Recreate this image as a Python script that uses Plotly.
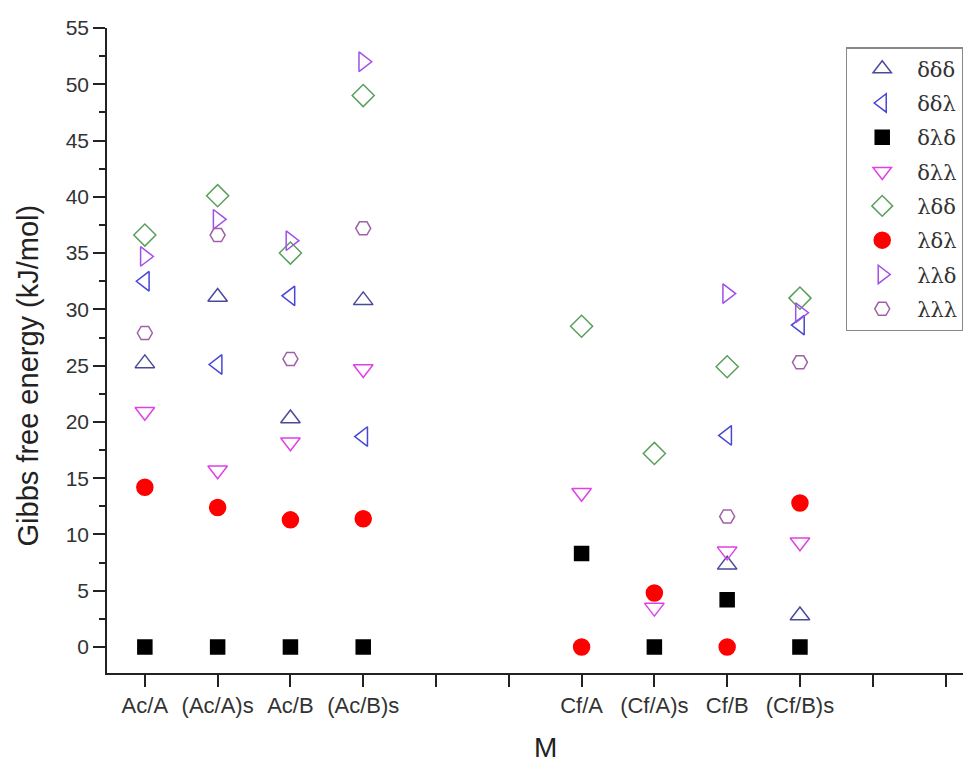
import plotly.graph_objects as go

categories = ["Ac/A", "(Ac/A)s", "Ac/B", "(Ac/B)s", "", "",
              "Cf/A", "(Cf/A)s", "Cf/B", "(Cf/B)s", "", ""]

series_names = ["δδδ", "δδλ", "δλδ", "δλλ", "λδδ", "λδλ", "λλδ", "λλλ"]

# values per category position (None = no point)
ddd = [25.2, 31.1, 20.3, 30.8, None, None, None, None, 7.3, 2.8, None, None]
ddl = [32.5, 25.1, 31.2, 18.7, None, None, None, None, 18.8, 28.6, None, None]
dld = [0.0, 0.0, 0.0, 0.0, None, None, 8.3, 0.0, 4.2, 0.0, None, None]
dll = [20.9, 15.7, 18.2, 24.7, None, None, 13.7, 3.5, 8.5, 9.3, None, None]
ldd = [36.6, 40.1, 35.0, 49.0, None, None, 28.5, 17.2, 24.9, 31.0, None, None]
ldl = [14.2, 12.4, 11.3, 11.4, None, None, 0.0, 4.8, 0.0, 12.8, None, None]
lld = [34.7, 38.0, 36.1, 52.0, None, None, None, None, 31.4, 29.7, None, None]
lll = [27.9, 36.6, 25.6, 37.2, None, None, None, None, 11.6, 25.3, None, None]

y_ticks = [0, 5, 10, 15, 20, 25, 30, 35, 40, 45, 50, 55]

all_values = [ddd, ddl, dld, dll, ldd, ldl, lld, lll]
symbols = ["triangle-up-open", "triangle-left-open", "square", "triangle-down-open",
           "diamond-open", "circle", "triangle-right-open", "hexagon2-open"]
colors = ["#4a4a9c", "#4646d8", "#000000", "#e040e8",
          "#5aa05a", "#ff0000", "#a050e8", "#a060a8"]
sizes = [17, 17, 14, 17, 17, 16, 17, 15]

xpos = list(range(len(categories)))

fig = go.Figure()
for name, vals, sym, col, sz in zip(series_names, all_values, symbols, colors, sizes):
    xs = [x for x, v in zip(xpos, vals) if v is not None]
    ys = [v for v in vals if v is not None]
    fig.add_trace(go.Scatter(
        x=xs, y=ys, mode="markers", name=name, legendgroup=name,
        marker=dict(symbol=sym, color=col, size=sz, line=dict(color=col, width=1.5)),
    ))

fig.update_layout(
    width=963, height=754,
    margin=dict(l=99, r=0, t=20, b=89),
    plot_bgcolor="white", paper_bgcolor="white",
    font=dict(family="Liberation Sans, Arial, sans-serif", color="#333333"),
    legend=dict(
        x=0.855, y=0.9705, xanchor="left", yanchor="top",
        bordercolor="#888888", borderwidth=1.5, bgcolor="white",
        font=dict(family="DejaVu Serif, Liberation Serif, serif", size=21, color="#333333"),
        tracegroupgap=4, itemwidth=60,
    ),
    showlegend=True,
    annotations=[
        dict(text="Gibbs free energy (kJ/mol)", textangle=-90,
             xref="paper", yref="paper", x=-0.0909, y=0.462,
             xanchor="center", yanchor="middle", showarrow=False,
             font=dict(size=29, color="#222222")),
        dict(text="M", xref="paper", yref="paper", x=0.507, y=-0.116,
             xanchor="center", yanchor="middle", showarrow=False,
             font=dict(size=28, color="#222222")),
    ],
)

fig.update_xaxes(
    range=[-0.52, 11.35],
    tickmode="array", tickvals=xpos, ticktext=categories,
    showgrid=False, zeroline=False,
    showline=True, linecolor="#222222", linewidth=1.5,
    ticks="outside", ticklen=12, tickwidth=1.5, tickcolor="#222222",
    tickfont=dict(size=22, color="#333333"), tickangle=0,
)
fig.update_yaxes(
    range=[-2.31, 55],
    tickmode="array", tickvals=y_ticks,
    showgrid=False, zeroline=False,
    showline=True, linecolor="#222222", linewidth=1.5,
    ticks="outside", ticklen=12, tickwidth=1.5, tickcolor="#222222",
    minor=dict(ticks="outside", ticklen=6, tickwidth=1.5, tickcolor="#222222", dtick=2.5, tick0=0),
    tickfont=dict(size=21, color="#333333"),
)

fig.write_html("out.html")
